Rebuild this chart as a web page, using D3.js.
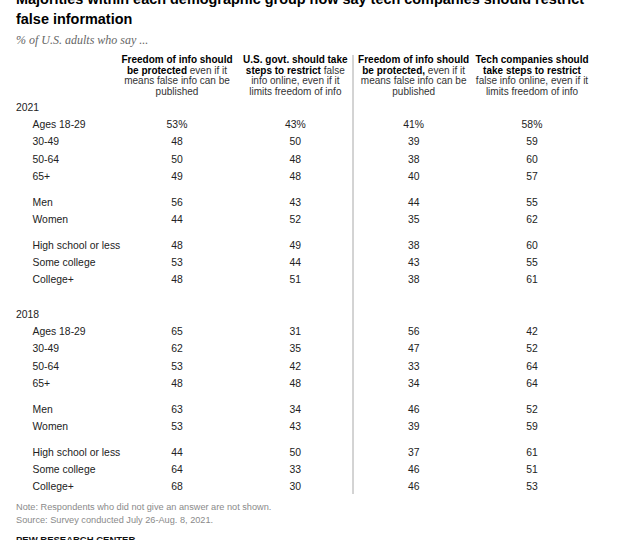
<!DOCTYPE html>
<html>
<head>
<meta charset="utf-8">
<script src="https://cdn.jsdelivr.net/npm/d3@7"></script>
<style>
  body { margin: 0; background: #fff; }
  svg { display: block; font-family: "Liberation Sans", Arial, sans-serif; }
</style>
</head>
<body>
<div id="chart"></div>
<script>
(function () {
    'use strict';
    var width = 620;
    var height = 540;

    // data
    var years = ['2021', '2018'];
    var groups = [
        ['Ages 18-29', '30-49', '50-64', '65+'],
        ['Men', 'Women'],
        ['High school or less', 'Some college', 'College+']
    ];
    var columns = ['freeA', 'govt', 'freeB', 'tech'];

    // header lines, each line is a list of [text, bold]
    var headers = {
        freeA: [[['Freedom of info should', true]],
                [['be protected', true], [' even if it', false]],
                [['means false info can be', false]],
                [['published', false]]],
        govt:  [[['U.S. govt. should take', true]],
                [['steps to restrict', true], [' false', false]],
                [['info online, even if it', false]],
                [['limits freedom of info', false]]],
        freeB: [[['Freedom of info should', true]],
                [['be protected,', true], [' even if it', false]],
                [['means false info can be', false]],
                [['published', false]]],
        tech:  [[['Tech companies should', true]],
                [['take steps to restrict', true]],
                [['false info online, even if it', false]],
                [['limits freedom of info', false]]]
    };

    var values = {
        '2021': {
            freeA: [53, 48, 50, 49, 56, 44, 48, 53, 48],
            govt:  [43, 50, 48, 48, 43, 52, 49, 44, 51],
            freeB: [41, 39, 38, 40, 44, 35, 38, 43, 38],
            tech:  [58, 59, 60, 57, 55, 62, 60, 55, 61]
        },
        '2018': {
            freeA: [65, 62, 53, 48, 63, 53, 44, 64, 68],
            govt:  [31, 35, 42, 48, 34, 43, 50, 33, 30],
            freeB: [56, 47, 33, 34, 46, 39, 37, 46, 46],
            tech:  [42, 52, 64, 64, 52, 59, 61, 51, 53]
        }
    };

    var title = ['Majorities within each demographic group now say tech companies should restrict',
                 'false information'];
    var subtitle = '% of U.S. adults who say ...';
    var notes = ['Note: Respondents who did not give an answer are not shown.',
                 'Source: Survey conducted July 26-Aug. 8, 2021.'];
    var credit = 'PEW RESEARCH CENTER';

    // build rows with layout slots (year label, then rows, half slot between groups)
    var rows = [];
    var slot = 0;
    years.forEach(function (yr, yi) {
        if (yi > 0) { slot += 2; }
        rows.push({ type: 'year', label: yr, slot: slot });
        var k = 0;
        groups.forEach(function (g, gi) {
            if (gi > 0) { slot += 0.5; }
            g.forEach(function (name) {
                slot += 1;
                rows.push({ type: 'row', label: name, slot: slot, year: yr, idx: k, first: k === 0 && yi === 0 });
                k++;
            });
        });
    });

    var y = d3.scaleLinear().domain([0, slot]).range([107, 486.5]);
    var x = d3.scalePoint().domain(columns).range([177, 532]);

    var svg = d3.select('#chart')
        .append('svg')
        .attr('width', width)
        .attr('height', height);

    // title (first line runs off the top like in the source image)
    svg.append('g').selectAll('text').data(title).enter()
        .append('text')
        .attr('x', 16)
        .attr('y', function (d, i) { return 3.5 + i * 20; })
        .attr('font-size', 14.45)
        .attr('font-weight', 'bold')
        .attr('fill', '#000')
        .text(function (d) { return d; });

    svg.append('text')
        .attr('x', 16)
        .attr('y', 44)
        .attr('font-family', '"Liberation Serif", "DejaVu Serif", serif')
        .attr('font-style', 'italic')
        .attr('font-size', 12)
        .attr('fill', '#666')
        .text(subtitle);

    // column headers
    var head = svg.append('g').selectAll('g').data(columns).enter()
        .append('g')
        .attr('transform', function (d) { return 'translate(' + x(d) + ',0)'; });
    head.each(function (c) {
        var t = d3.select(this).selectAll('text').data(headers[c]).enter()
            .append('text')
            .attr('text-anchor', 'middle')
            .attr('y', function (d, i) { return 62.8 + i * 10.7; })
            .attr('font-size', 10);
        t.selectAll('tspan').data(function (d) { return d; }).enter()
            .append('tspan')
            .attr('font-weight', function (d) { return d[1] ? 'bold' : 'normal'; })
            .attr('fill', function (d) { return d[1] ? '#000' : '#333'; })
            .text(function (d) { return d[0]; });
    });

    // divider
    var divX = (x('govt') + x('freeB')) / 2 - 1.5;
    svg.append('line')
        .attr('x1', divX).attr('x2', divX)
        .attr('y1', 55).attr('y2', 494)
        .attr('stroke', '#a8a8a8')
        .attr('stroke-width', 1);

    // row labels
    svg.append('g').selectAll('text').data(rows).enter()
        .append('text')
        .attr('x', function (d) { return d.type === 'year' ? 16 : 32.5; })
        .attr('y', function (d) { return y(d.slot) + 3.8; })
        .attr('font-size', 10.4)
        .attr('fill', '#222')
        .text(function (d) { return d.label; });

    // values
    var cells = [];
    rows.filter(function (r) { return r.type === 'row'; }).forEach(function (r) {
        columns.forEach(function (c) {
            cells.push({ col: c, row: r, v: values[r.year][c][r.idx] });
        });
    });
    svg.append('g').selectAll('text').data(cells).enter()
        .append('text')
        .attr('x', function (d) { return x(d.col); })
        .attr('y', function (d) { return y(d.row.slot) + 3.8; })
        .attr('text-anchor', 'middle')
        .attr('font-size', 10.4)
        .attr('fill', '#222')
        .text(function (d) { return d.v + (d.row.first ? '%' : ''); });

    // notes
    svg.append('g').selectAll('text').data(notes).enter()
        .append('text')
        .attr('x', 16)
        .attr('y', function (d, i) { return 510 + i * 12.5; })
        .attr('font-size', 9.2)
        .attr('fill', '#8a8a8a')
        .text(function (d) { return d; });

    svg.append('text')
        .attr('x', 16)
        .attr('y', 543)
        .attr('font-size', 9.5)
        .attr('font-weight', 'bold')
        .attr('fill', '#111')
        .text(credit);
}());
</script>
</body>
</html>
